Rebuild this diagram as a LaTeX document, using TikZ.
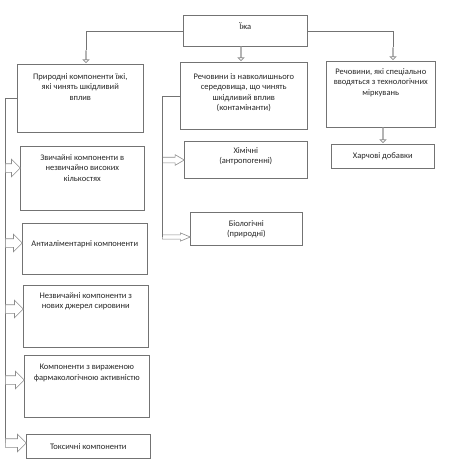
\documentclass[tikz,border=0pt]{standalone}
\usepackage{fontspec}
\setmainfont{Carlito}
\usetikzlibrary{shapes.arrows}

\begin{document}
\begin{tikzpicture}[x=1pt, y=-1pt,
    every node/.style={font=\fontsize{8.5}{10.5}\selectfont, text=black!85},
    box/.style={rectangle, draw=black!55, line width=0.6pt, anchor=north west, inner sep=0pt},
    toptxt/.style={anchor=north, yshift=-#1, align=center, inner sep=0pt},
    conn/.style={draw=black!55, line width=0.6pt},
    blk/.style={single arrow, draw=black!45, fill=white, line width=0.6pt, inner sep=0pt, minimum height=#1},
    big/.style={inner ysep=4pt, single arrow head extend=4.5pt, single arrow tip angle=90},
    small/.style={inner ysep=2.5pt, single arrow head extend=2.5pt, single arrow tip angle=90}
]
    \useasboundingbox (0,0) rectangle (457,467);

    % Top level
    \node[box, minimum width=124, minimum height=31, label={[toptxt=7pt]north:Їжа}] (food) at (183,15) {};

    \node[box, minimum width=126, minimum height=68, label={[toptxt=9pt]north:Природні компоненти їжі,\\ які чинять шкідливий\\ вплив}] (nat) at (17,64) {};
    \node[box, minimum width=127, minimum height=67, label={[toptxt=11pt]north:Речовини із навколишнього\\ середовища, що чинять\\ шкідливий вплив\\ (контамінанти)}] (cont) at (180,62) {};
    \node[box, minimum width=109, minimum height=66, label={[toptxt=7pt]north:Речовини, які спеціально\\ вводяться з технологічних\\ міркувань}] (tech) at (326,61) {};

    \node[blk=12, small, shape border rotate=270, anchor=tip] (a1) at (86,63) {};
    \node[blk=14, small, shape border rotate=270, anchor=tip] (a0) at (241,61) {};
    \node[blk=12, small, shape border rotate=270, anchor=tip] (a2) at (393,60) {};
    \draw[conn] (food.west) -| (a1.tail);
    \draw[conn] (food.east) -| (a2.tail);

    % Technological
    \node[box, minimum width=103, minimum height=24] (add) at (331,144) {Харчові добавки};
    \node[blk=15, small, shape border rotate=270, anchor=tip] (a3) at (383,143) {};

    % Contaminants
    \node[box, minimum width=123, minimum height=37, label={[toptxt=6pt]north:Хімічні\\ (антропогенні)}] (chem) at (184,141) {};
    \node[box, minimum width=112, minimum height=33, label={[toptxt=8pt]north:Біологічні\\ (природні)}] (bio) at (190,212) {};

    \node[blk=22, small, single arrow tip angle=60, anchor=tail] (d1) at (162,160) {};
    \node[blk=28, inner ysep=1.8pt, single arrow head extend=2pt, single arrow tip angle=45, anchor=tail] (d2) at (162,237) {};
    \draw[conn] (cont.west) -| (d2.tail);

    % Natural components
    \node[box, minimum width=124, minimum height=64, label={[toptxt=8pt]north:Звичайні компоненти в\\ незвичайно високих\\ кількостях}] (c1) at (20,146) {};
    \node[box, minimum width=125, minimum height=51, label={[toptxt=17pt]north:Антиаліментарні компоненти}] (c2) at (22,223) {};
    \node[box, minimum width=125, minimum height=62, label={[toptxt=7pt]north:Незвичайні компоненти з\\ нових джерел сировини}] (c3) at (23,285) {};
    \node[box, minimum width=125, minimum height=62, label={[toptxt=9pt]north:Компоненти з вираженою\\ фармакологічною активністю}] (c4) at (24,355) {};
    \node[box, minimum width=124, minimum height=24] (c5) at (26,434) {Токсичні компоненти};

    \draw[conn] (nat.west) -| (5,443);
    \node[blk=15, big, anchor=tail] (b1) at (5,168) {};
    \node[blk=17, big, anchor=tail] (b2) at (5,243) {};
    \node[blk=18, big, anchor=tail] (b3) at (5,309) {};
    \node[blk=19, big, anchor=tail] (b4) at (5,380) {};
    \node[blk=21, big, anchor=tail] (b5) at (5,443) {};
\end{tikzpicture}
\end{document}
